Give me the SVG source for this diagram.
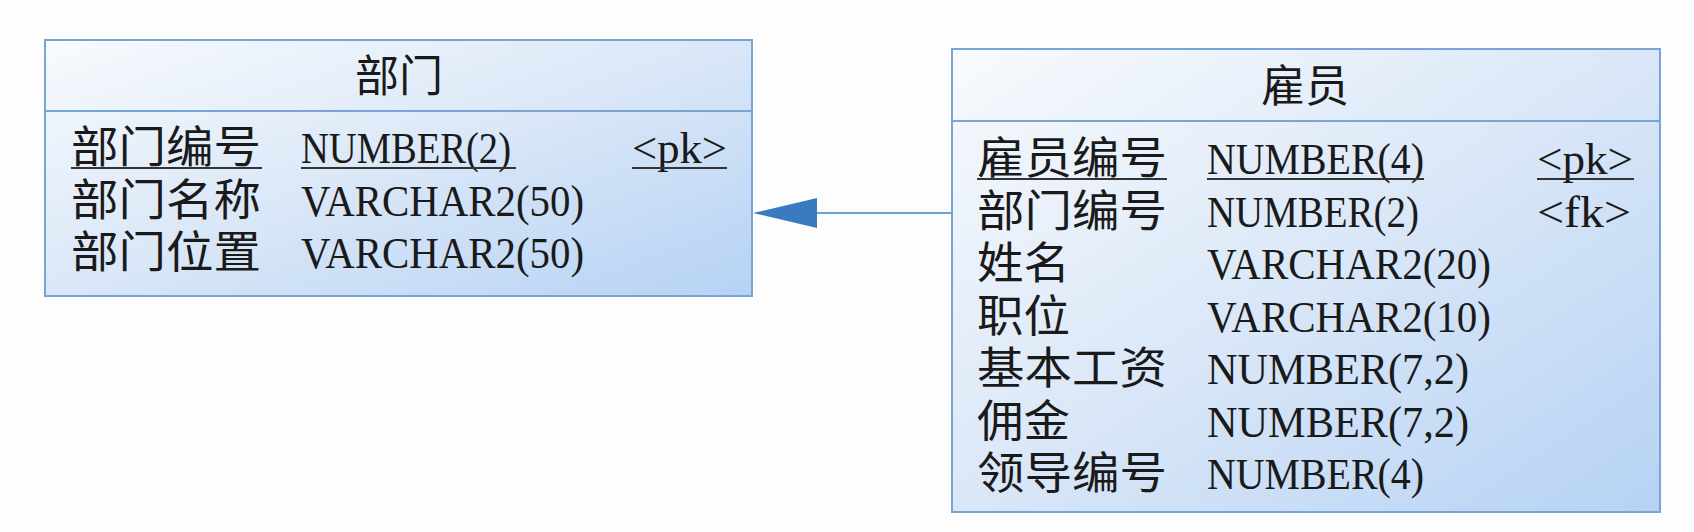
<svg xmlns="http://www.w3.org/2000/svg" width="1694" height="532" viewBox="0 0 1694 532">
  <defs>
    <linearGradient id="boxFill" x1="0" y1="0" x2="1" y2="1">
      <stop offset="0" stop-color="#f8fafd"/>
      <stop offset="0.45" stop-color="#dde9f8"/>
      <stop offset="1" stop-color="#b6d2f4"/>
    </linearGradient>
    <marker id="arrowHead" viewBox="0 0 64 30" refX="0" refY="15" markerWidth="64" markerHeight="30" markerUnits="userSpaceOnUse" orient="auto-start-reverse">
      <path d="M0,15 L64,0 L64,30 Z" fill="#3a7bc0"/>
    </marker>
    <style>
      .box { fill: url(#boxFill); stroke: #78a5d3; stroke-width: 2; }
      .div { stroke: #78a5d3; stroke-width: 2; }
      .cjk { font-family: "Noto Sans CJK SC", "Noto Sans", sans-serif; font-size: 44px; fill: #1a1a1a; }
      .lat { font-family: "Liberation Serif", "DejaVu Serif", serif; font-size: 45px; fill: #1a1a1a; }
      .title { font-family: "Noto Sans CJK SC", "Noto Sans", sans-serif; font-size: 44px; fill: #1a1a1a; text-anchor: middle; }
      .ul { stroke: #333333; stroke-width: 2; }
      .conn { stroke: #6aa3d6; stroke-width: 2; fill: none; }
    </style>
  </defs>
  <rect width="1694" height="532" fill="#fdfdfd"/>

  <g id="connectors">
    <line class="conn" x1="952" y1="213" x2="817" y2="213"/>
    <path d="M753,213 L817,198 L817,228 Z" fill="#3a7bc0"/>
  </g>

  <g id="node-dept">
    <rect class="box" x="45" y="40" width="707" height="256"/>
    <line class="div" x1="45" y1="111" x2="752" y2="111"/>
    <text class="title" x="399" y="92">部门</text>
    <text class="cjk" x="71" y="163" textLength="190" lengthAdjust="spacingAndGlyphs">部门编号</text>
    <text class="lat" x="301" y="163" textLength="210" lengthAdjust="spacingAndGlyphs">NUMBER(2)</text>
    <text class="lat" x="632" y="163" textLength="95" lengthAdjust="spacingAndGlyphs">&lt;pk&gt;</text>
    <line class="ul" x1="71" y1="168" x2="262" y2="168"/>
    <line class="ul" x1="301" y1="168" x2="516" y2="168"/>
    <line class="ul" x1="632" y1="168" x2="727" y2="168"/>
    <text class="cjk" x="71" y="215.5" textLength="190" lengthAdjust="spacingAndGlyphs">部门名称</text>
    <text class="lat" x="301" y="215.5" textLength="283" lengthAdjust="spacingAndGlyphs">VARCHAR2(50)</text>
    <text class="cjk" x="71" y="268" textLength="190" lengthAdjust="spacingAndGlyphs">部门位置</text>
    <text class="lat" x="301" y="268" textLength="283" lengthAdjust="spacingAndGlyphs">VARCHAR2(50)</text>
  </g>

  <g id="node-emp">
    <rect class="box" x="952" y="49" width="708" height="463"/>
    <line class="div" x1="952" y1="121" x2="1660" y2="121"/>
    <text class="title" x="1305" y="102">雇员</text>
    <text class="cjk" x="977" y="174" textLength="190" lengthAdjust="spacingAndGlyphs">雇员编号</text>
    <text class="lat" x="1207" y="174" textLength="217" lengthAdjust="spacingAndGlyphs">NUMBER(4)</text>
    <text class="lat" x="1537" y="174" textLength="96" lengthAdjust="spacingAndGlyphs">&lt;pk&gt;</text>
    <line class="ul" x1="977" y1="179" x2="1167" y2="179"/>
    <line class="ul" x1="1207" y1="179" x2="1424" y2="179"/>
    <line class="ul" x1="1537" y1="179" x2="1634" y2="179"/>
    <text class="cjk" x="977" y="226.5" textLength="190" lengthAdjust="spacingAndGlyphs">部门编号</text>
    <text class="lat" x="1207" y="226.5" textLength="212" lengthAdjust="spacingAndGlyphs">NUMBER(2)</text>
    <text class="lat" x="1537" y="226.5" textLength="94" lengthAdjust="spacingAndGlyphs">&lt;fk&gt;</text>
    <text class="cjk" x="977" y="279" textLength="93" lengthAdjust="spacingAndGlyphs">姓名</text>
    <text class="lat" x="1207" y="279" textLength="284" lengthAdjust="spacingAndGlyphs">VARCHAR2(20)</text>
    <text class="cjk" x="977" y="331.5" textLength="93" lengthAdjust="spacingAndGlyphs">职位</text>
    <text class="lat" x="1207" y="331.5" textLength="284" lengthAdjust="spacingAndGlyphs">VARCHAR2(10)</text>
    <text class="cjk" x="977" y="384" textLength="190" lengthAdjust="spacingAndGlyphs">基本工资</text>
    <text class="lat" x="1207" y="384" textLength="262" lengthAdjust="spacingAndGlyphs">NUMBER(7,2)</text>
    <text class="cjk" x="977" y="437" textLength="93" lengthAdjust="spacingAndGlyphs">佣金</text>
    <text class="lat" x="1207" y="437" textLength="262" lengthAdjust="spacingAndGlyphs">NUMBER(7,2)</text>
    <text class="cjk" x="977" y="489" textLength="190" lengthAdjust="spacingAndGlyphs">领导编号</text>
    <text class="lat" x="1207" y="489" textLength="217" lengthAdjust="spacingAndGlyphs">NUMBER(4)</text>
  </g>
</svg>
